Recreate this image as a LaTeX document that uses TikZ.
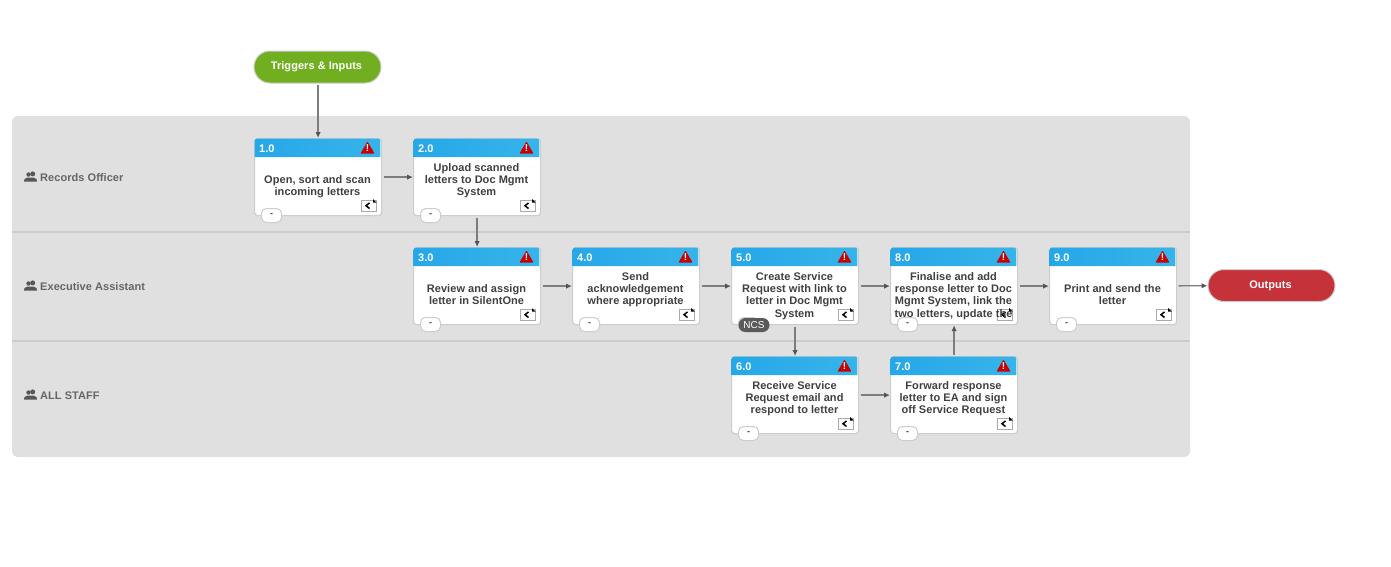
\documentclass[tikz,border=0pt]{standalone}
\usepackage{fontspec}
\setmainfont{Liberation Sans}[LetterSpace=0.5]
\usetikzlibrary{arrows.meta, positioning, shapes.misc}
\definecolor{PoolGrey}{RGB}{224,224,224}
\definecolor{LaneLine}{RGB}{204,204,204}
\definecolor{CardEdge}{RGB}{205,205,205}
\definecolor{DocEdge}{RGB}{170,170,170}
\definecolor{CardInk}{RGB}{64,64,64}
\definecolor{LaneInk}{RGB}{102,102,102}
\definecolor{FlowLine}{RGB}{125,125,125}
\definecolor{FlowTip}{RGB}{85,85,85}
\definecolor{HeadLeft}{RGB}{38,167,232}
\definecolor{HeadRight}{RGB}{54,180,234}
\definecolor{AlertRed}{RGB}{200,0,0}
\definecolor{StartGreen}{RGB}{114,175,32}
\definecolor{EndRed}{RGB}{198,50,57}
\definecolor{BadgeGrey}{RGB}{90,90,90}
\newcommand{\pxfont}[1]{\fontsize{#1}{12}\selectfont}
\tikzset{
  stepbody/.style={draw=CardEdge, fill=white, line width=1.2pt, rounded corners=3pt,
    minimum width=127pt, minimum height=77pt, inner sep=0pt, anchor=north west},
  stepnum/.style={text=white, font=\pxfont{11}\bfseries, inner sep=0pt, anchor=west},
  steptext/.style={text=CardInk, font=\pxfont{11}\bfseries, align=center, inner sep=0pt, anchor=north},
  steptag/.style={draw=CardEdge, fill=white, line width=1pt, rounded corners=5pt,
    minimum width=20pt, minimum height=14pt, inner sep=0pt, text=CardInk, font=\pxfont{9}\bfseries},
  terminal/.style={rounded rectangle, draw=CardEdge, line width=1pt, minimum width=127pt,
    minimum height=32pt, inner sep=0pt, text=white, font=\pxfont{11}\bfseries},
  lanelabel/.style={text=LaneInk, font=\pxfont{11}\bfseries, inner sep=0pt, anchor=west},
  flow/.style={draw=FlowLine, line width=1.3pt, shorten <=1.5pt,
    -{Latex[length=6pt, width=5.5pt, color=FlowTip]}},
  staff/.pic={
    \fill[LaneInk!85!black] (2.2,-3.6) circle (2.5);
    \fill[LaneInk!85!black] (-2,-3) circle (2.2);
    \fill[LaneInk!85!black] (-6.5,4) -- (-6,1.6) -- (-3,0) -- (3,0) -- (6,1.6) -- (6.5,4) -- cycle;
  },
  docicon/.pic={
    \draw[DocEdge, fill=white, line width=1pt] (0,1) rectangle (15,11.5);
    \draw[black, line width=1.5pt] (8.5,3.4) -- (5,6.2) -- (8.5,9);
    \fill[black] (12,-0.5) -- (15.5,3) -- (12,3) -- cycle;
  }
}
% card: [first text line] name, left, top, number, text
\newcommand{\stepcard}[6][25]{
  \begin{scope}[shift={(#3,#4)}]
    \node[stepbody] (#2) at (0,0) {};
    \path[left color=HeadLeft, right color=HeadRight]
      (0.6,19) [rounded corners=2.5pt] -- (0.6,0.6) -- (126.4,0.6) [sharp corners] -- (126.4,19) -- cycle;
    \node[stepnum] (#2num) at (5,10.5) {#5};
    \fill[AlertRed, rounded corners=0.6pt] (113.5,3.5) -- (120.5,15.5) -- (106.5,15.5) -- cycle;
    \node[text=white, font=\pxfont{10}\bfseries, inner sep=0pt] (#2alert) at (113.5,10.5) {!};
    \pic at (107,61.5) {docicon};
    \node[steptext] (#2text) at (63.5,#1) {\strut #6};
    \node[steptag] (#2tag) at (17.5,77.5) {\raisebox{-2.5pt}{-}};
  \end{scope}
}
\begin{document}
\begin{tikzpicture}[x=1pt, y=-1pt]
  \useasboundingbox (0,0) rectangle (1391,566);
  \fill[PoolGrey, rounded corners=6pt] (12,116) rectangle (1190,457);
  \draw[LaneLine, line width=2pt] (12,232) -- (1190,232);
  \draw[LaneLine, line width=2pt] (12,341) -- (1190,341);

  \node[lanelabel] (lane1) at (40,177.5) {Records Officer};
  \node[lanelabel] (lane2) at (40,286.5) {Executive Assistant};
  \node[lanelabel] (lane3) at (40,395.5) {ALL STAFF};
  \pic at ([xshift=-9.5pt]lane1.west) {staff};
  \pic at ([xshift=-9.5pt]lane2.west) {staff};
  \pic at ([xshift=-9.5pt]lane3.west) {staff};

  \node[terminal, fill=StartGreen] (inputs) at (317.5,67) {\raisebox{2pt}{Triggers \& Inputs\hspace{2pt}}};
  \node[terminal, fill=EndRed] (outputs) at (1271.5,285.5) {\raisebox{2.5pt}{Outputs\hspace{2pt}}};

  \stepcard[37]{s1}{254}{138}{1.0}{Open, sort and scan\\incoming letters}
  \stepcard{s2}{413}{138}{2.0}{Upload scanned\\letters to Doc Mgmt\\System}
  \stepcard[37]{s3}{413}{247}{3.0}{Review and assign\\letter in SilentOne}
  \stepcard{s4}{572}{247}{4.0}{Send\\acknowledgement\\where appropriate}
  \stepcard{s5}{731}{247}{5.0}{Create Service\\Request with link to\\letter in Doc Mgmt\\[1pt]System}
  \stepcard{s8}{890}{247}{8.0}{Finalise and add\\response letter to Doc\\Mgmt System, link the\\[1pt]two letters, update the}
  \stepcard[37]{s9}{1049}{247}{9.0}{Print and send the\\letter}
  \stepcard{s6}{731}{356}{6.0}{Receive Service\\Request email and\\respond to letter}
  \stepcard{s7}{890}{356}{7.0}{Forward response\\letter to EA and sign\\off Service Request}

  \node[rounded rectangle, fill=BadgeGrey, minimum width=31pt, minimum height=14pt, inner sep=0pt,
        text=white, font=\pxfont{10}] (ncs) at (754,325) {NCS};

  \draw[flow] (s1.north |- inputs.south) -- (s1.north);
  \draw[flow] (s1) -- (s2);
  \draw[flow] (s2) -- (s3);
  \draw[flow] (s3) -- (s4);
  \draw[flow] (s4) -- (s5);
  \draw[flow] (s5) -- (s8);
  \draw[flow] (s8) -- (s9);
  \draw[flow] (s9) -- (outputs);
  \draw[flow] (s5) -- (s6);
  \draw[flow] (s6) -- (s7);
  \draw[flow] (s7) -- (s8);
\end{tikzpicture}
\end{document}
